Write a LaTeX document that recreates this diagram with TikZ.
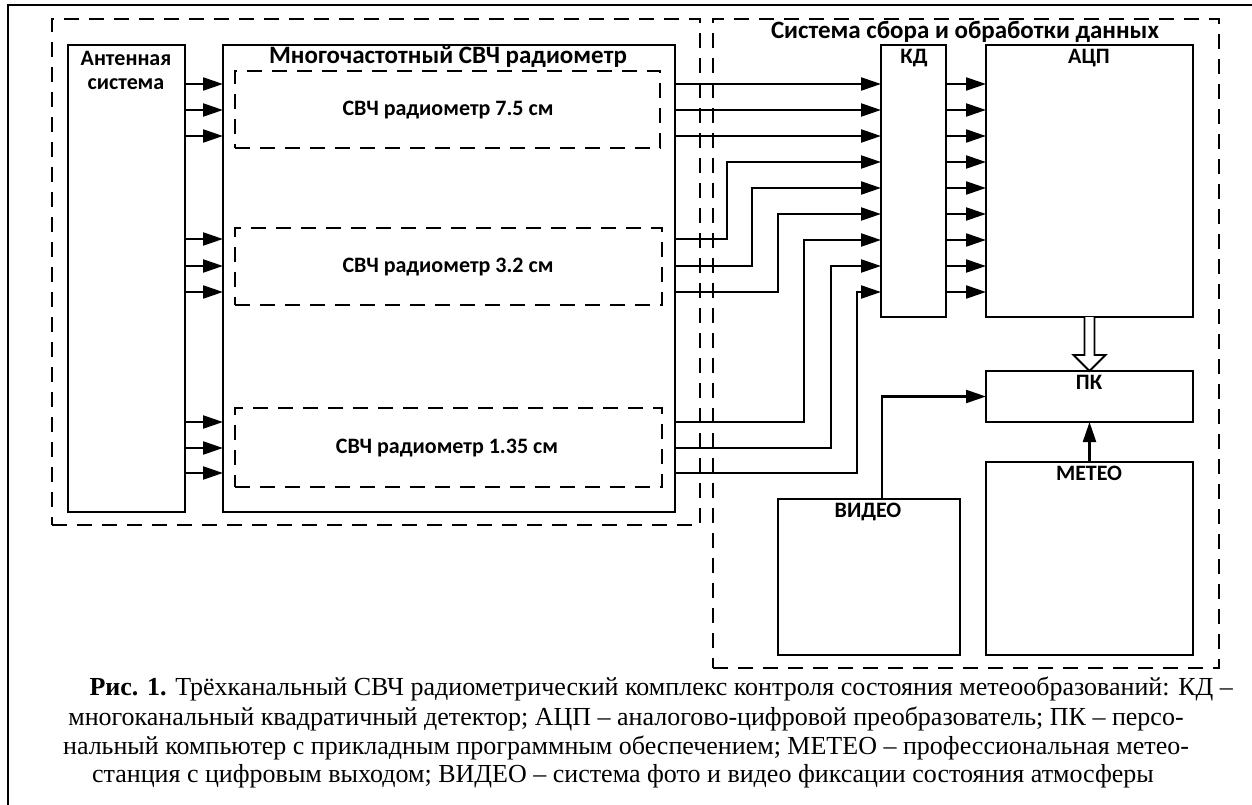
\documentclass[tikz,border=0pt]{standalone}
\usepackage{fontspec}
\newfontfamily\labfont{Carlito}
\newfontfamily\capfont{Liberation Serif}
\usetikzlibrary{arrows.meta,calc}
\begin{document}
\begin{tikzpicture}[x=1pt,y=-1pt,
 box/.style={draw,line width=2.4pt,anchor=north west,inner sep=0pt,outer sep=0pt},
 dbox/.style={draw,line width=2.2pt,dash pattern=on 15pt off 10pt,anchor=north west,inner sep=0pt,outer sep=0pt},
 wire/.style={line width=2.2pt},
 arr/.style={wire,-{Triangle[length=20pt,width=13pt]}},
 lab/.style={font=\labfont\bfseries\fontsize{22}{24}\selectfont,inner sep=0pt},
 big/.style={font=\labfont\bfseries\fontsize{25}{27}\selectfont,inner sep=0pt},
 capl/.style={font=\capfont\fontsize{26}{29}\selectfont,anchor=base,inner sep=0pt}]
\useasboundingbox (0,0) rectangle (1252,805);
\fill[white] (0,0) rectangle (1252,805);
\coordinate (fbl) at (8,805);
\coordinate (ftl) at (8,5);
\coordinate (ftr) at (1252,5);
\draw[line width=1.8pt] (fbl) -- (ftl) -- (ftr);
% dashed groups
\node[dbox,minimum width=648pt,minimum height=506pt] (ldash) at (52,19) {};
\node[dbox,minimum width=506pt,minimum height=649pt] (rdash) at (713,19) {};
% boxes
\node[box,minimum width=117pt,minimum height=467pt] (ant) at (68,45) {};
\node[box,minimum width=452pt,minimum height=467pt] (mf) at (223,45) {};
\node[dbox,minimum width=425pt,minimum height=77pt] (s1) at (235,71) {};
\node[dbox,minimum width=427pt,minimum height=77pt] (s2) at (235,228) {};
\node[dbox,minimum width=427pt,minimum height=79pt] (s3) at (235,408) {};
\node[box,minimum width=65pt,minimum height=272pt] (kd) at (881,45) {};
\node[box,minimum width=207pt,minimum height=272pt] (adc) at (986,45) {};
\node[box,minimum width=207pt,minimum height=51pt] (pk) at (986,371) {};
\node[box,minimum width=207pt,minimum height=193pt] (meteo) at (986,462) {};
\node[box,minimum width=182pt,minimum height=156pt] (video) at (778,499) {};
% labels
\node[lab] (lant1) at (126,58) {Антенная};
\node[lab] (lant2) at (126,84) {система};
\node[big] (lmf) at (448,57) {Многочастотный СВЧ радиометр};
\node[lab] (ls1) at (448,110) {СВЧ радиометр 7.5 см};
\node[lab] (ls2) at (448,267) {СВЧ радиометр 3.2 см};
\node[lab] (ls3) at (447,448) {СВЧ радиометр 1.35 см};
\node[big] (lsys) at (965,32) {Система сбора и обработки данных};
\node[lab] (lkd) at (914,58) {КД};
\node[lab] (ladc) at (1089,58) {АЦП};
\node[lab] (lpk) at (1089,382) {ПК};
\node[lab] (lmet) at (1089,473) {МЕТЕО};
\node[lab] (lvid) at (868,512) {ВИДЕО};
% antenna -> radiometer
\foreach \y in {84,110,136,239,266,292,422,448,473}
  \draw[arr] (ant.east |- 0,\y) -- (mf.west |- 0,\y);
% radiometer -> KD
\foreach \y in {84,110,136}
  \draw[arr] (mf.east |- 0,\y) -- (kd.west |- 0,\y);
\foreach \ys/\xb/\ye in {239/727/162,266/752/188,292/778/214,422/804/240,448/831/266,473/857/292}
  \draw[arr] (mf.east |- 0,\ys) -| (\xb,\ye) -- (kd.west |- 0,\ye);
% KD -> ADC
\foreach \y in {84,110,136,162,188,214,240,266,292}
  \draw[arr] (kd.east |- 0,\y) -- (adc.west |- 0,\y);
% ADC => PK hollow arrow
\draw[line width=1.8pt,fill=white,line join=miter]
  ($(adc.south)+(-5,0)$) -- ($(adc.south)+(-5,38)$) -- ($(adc.south)+(-16,38)$)
  -- (pk.north) -- ($(adc.south)+(16,38)$) -- ($(adc.south)+(5,38)$) -- ($(adc.south)+(5,0)$);
% VIDEO -> PK
\draw[arr] ($(video.north west)+(104,0)$) |- (pk.west);
% METEO -> PK
\draw[arr] (meteo.north) -- (pk.south);
% caption
\node[capl,anchor=base east] (c1) at (1233,695) {\textbf{Рис. 1.} Трёхканальный СВЧ радиометрический комплекс контроля состояния метеообразований: КД –};
\node[capl] (c2) at (626,725) {многоканальный квадратичный детектор; АЦП – аналогово-цифровой преобразователь; ПК – персо-};
\node[capl] (c3) at (626,754) {нальный компьютер с прикладным программным обеспечением; МЕТЕО – профессиональная метео-};
\node[capl] (c4) at (623,782) {станция с цифровым выходом; ВИДЕО – система фото и видео фиксации состояния атмосферы};
\end{tikzpicture}
\end{document}
